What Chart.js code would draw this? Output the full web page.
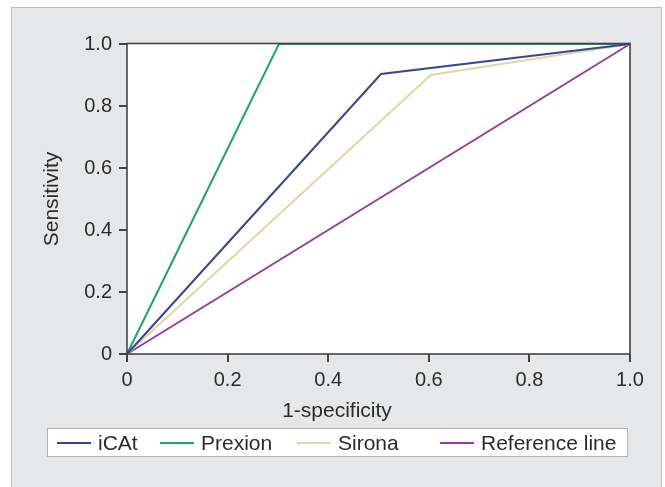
<!DOCTYPE html>
<html>
<head>
<meta charset="utf-8">
<script src="https://cdn.jsdelivr.net/npm/chart.js@4"></script>
<style>
  html, body { margin: 0; padding: 0; width: 665px; height: 487px; overflow: hidden; background: #ffffff; }
  #panel { position: absolute; left: 11px; top: 7px; width: 649px; height: 500px; background: #e6e7e8; border: 1px solid #bcbdbe; }
  #wrap { position: absolute; left: 0; top: 0; width: 665px; height: 487px; }
  #xtitle { position: absolute; left: 0; width: 674px; top: 397px; text-align: center;
            font-family: "Liberation Sans", Arial, sans-serif; font-size: 21px; color: #2b2b2b; line-height: 25px; }
  #legend { position: absolute; left: 47px; top: 428px; width: 579px; height: 27px; background: #fff; border: 1px solid #b3b3b3; }
  .item { position: absolute; top: 0; height: 27px; display: flex; align-items: center;
          font-family: "Liberation Sans", Arial, sans-serif; font-size: 21px; color: #2b2b2b; white-space: nowrap; }
  .swatch { display: inline-block; width: 34px; height: 2px; margin-right: 7px; }
</style>
</head>
<body>
<div id="panel"></div>
<div id="wrap"><canvas id="c" width="665" height="487"></canvas></div>
<div id="xtitle"></div>
<div id="legend"></div>
<script>
// ---- data ----
const seriesNames = ['iCAt', 'Prexion', 'Sirona', 'Reference line'];
const icatX = [0, 0.505, 1];
const icatY = [0, 0.903, 1];
const prexionX = [0, 0.302, 1];
const prexionY = [0, 1, 1];
const sironaX = [0, 0.604, 1];
const sironaY = [0, 0.9, 1];
const refX = [0, 1];
const refY = [0, 1];
const tickValues = [0, 0.2, 0.4, 0.6, 0.8, 1.0];
const xTitle = '1-specificity';
const yTitle = 'Sensitivity';

// ---- styles ----
const colors = ['#34469b', '#1ba862', '#e3d7a0', '#9a3a9b'];
const legendLeft = [9, 112, 249, 392];
const FONT = '"Liberation Sans", Arial, sans-serif';

function pts(xs, ys) { return xs.map((x, i) => ({ x: x, y: ys[i] })); }
const allX = [icatX, prexionX, sironaX, refX];
const allY = [icatY, prexionY, sironaY, refY];

const datasets = seriesNames.map((name, i) => ({
  label: name,
  data: pts(allX[i], allY[i]),
  borderColor: colors[i],
  backgroundColor: colors[i],
  borderWidth: 2,
  pointRadius: 0,
  showLine: true,
  fill: false,
  tension: 0,
  clip: false
}));

const frame = {
  id: 'frame',
  beforeDatasetsDraw(chart) {
    const { ctx, chartArea: a } = chart;
    ctx.save();
    ctx.fillStyle = '#ffffff';
    ctx.fillRect(a.left, a.top, a.right - a.left, a.bottom - a.top);
    ctx.restore();
  },
  afterDatasetsDraw(chart) {
    const { ctx, chartArea: a } = chart;
    ctx.save();
    ctx.strokeStyle = '#444444';
    ctx.lineWidth = 1.6;
    ctx.strokeRect(a.left, a.top - 0.5, a.right - a.left, a.bottom - a.top + 0.5);
    ctx.restore();
  }
};

const tickFmt = v => (v === 0 ? '0' : Number(v).toFixed(1));

new Chart(document.getElementById('c'), {
  type: 'scatter',
  data: { datasets },
  plugins: [frame],
  options: {
    responsive: false,
    animation: false,
    layout: { padding: { left: 0, top: 44, right: 35, bottom: 93 } },
    plugins: { legend: { display: false }, tooltip: { enabled: false } },
    scales: {
      x: {
        type: 'linear', min: 0, max: 1,
        afterBuildTicks: s => { s.ticks = tickValues.map(v => ({ value: v })); },
        afterFit: s => { s.height = 40; },
        border: { display: false },
        grid: { drawOnChartArea: false, drawTicks: true, tickLength: 8, color: '#444', lineWidth: 2 },
        ticks: { callback: tickFmt, font: { family: FONT, size: 20 }, color: '#2b2b2b', padding: 6, maxRotation: 0, autoSkip: false }
      },
      y: {
        type: 'linear', min: 0, max: 1,
        afterBuildTicks: s => { s.ticks = tickValues.map(v => ({ value: v })); },
        afterFit: s => { s.width = 127; },
        border: { display: false },
        grid: { drawOnChartArea: false, drawTicks: true, tickLength: 8, color: '#444', lineWidth: 2 },
        ticks: { callback: tickFmt, font: { family: FONT, size: 20 }, color: '#2b2b2b', padding: 7, autoSkip: false },
        title: { display: true, text: yTitle, font: { family: FONT, size: 21 }, color: '#2b2b2b', padding: { top: 40, bottom: 0 } }
      }
    }
  }
});

document.getElementById('xtitle').textContent = xTitle;
const lg = document.getElementById('legend');
seriesNames.forEach((name, i) => {
  const it = document.createElement('div');
  it.className = 'item';
  it.style.left = legendLeft[i] + 'px';
  const sw = document.createElement('span');
  sw.className = 'swatch';
  sw.style.background = colors[i];
  it.appendChild(sw);
  it.appendChild(document.createTextNode(name));
  lg.appendChild(it);
});
</script>
</body>
</html>
